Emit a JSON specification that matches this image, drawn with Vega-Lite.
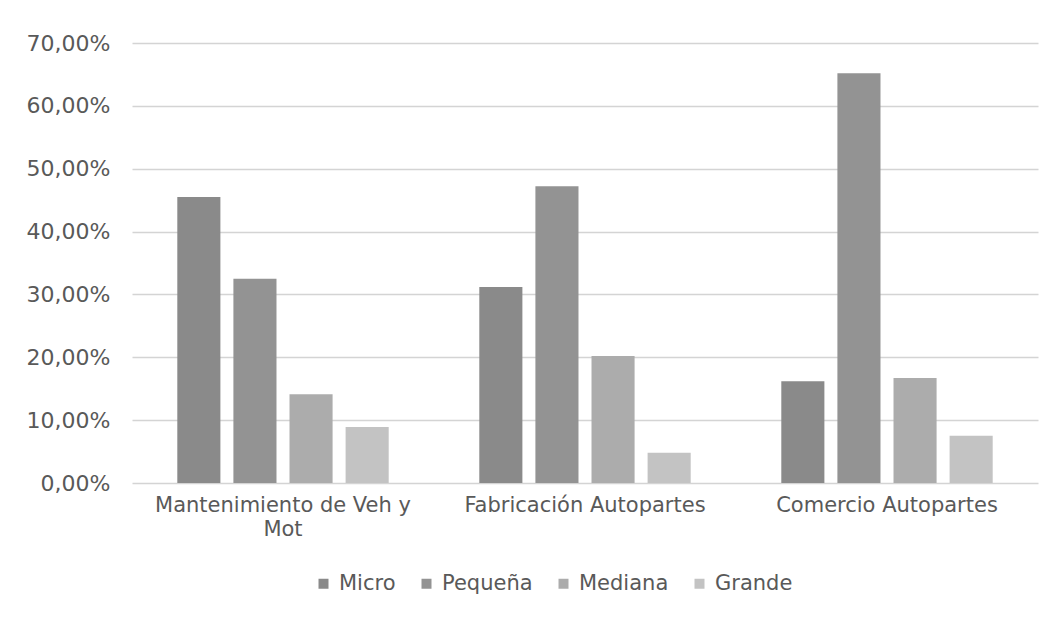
{
  "$schema": "https://vega.github.io/schema/vega-lite/v6.json",
  "width": 906,
  "height": 440,
  "autosize": {"type": "none"},
  "padding": {"left": 132, "top": 43, "right": 19, "bottom": 137},
  "background": "white",
  "data": {
    "values": [
      {"sector": "Mantenimiento de Veh y Mot", "size": "Micro", "pct": 45.5},
      {"sector": "Mantenimiento de Veh y Mot", "size": "Pequeña", "pct": 32.5},
      {"sector": "Mantenimiento de Veh y Mot", "size": "Mediana", "pct": 14.1},
      {"sector": "Mantenimiento de Veh y Mot", "size": "Grande", "pct": 8.9},
      {"sector": "Fabricación Autopartes", "size": "Micro", "pct": 31.2},
      {"sector": "Fabricación Autopartes", "size": "Pequeña", "pct": 47.2},
      {"sector": "Fabricación Autopartes", "size": "Mediana", "pct": 20.2},
      {"sector": "Fabricación Autopartes", "size": "Grande", "pct": 4.8},
      {"sector": "Comercio Autopartes", "size": "Micro", "pct": 16.2},
      {"sector": "Comercio Autopartes", "size": "Pequeña", "pct": 65.2},
      {"sector": "Comercio Autopartes", "size": "Mediana", "pct": 16.7},
      {"sector": "Comercio Autopartes", "size": "Grande", "pct": 7.5}
    ]
  },
  "mark": {"type": "bar"},
  "encoding": {
    "x": {
      "field": "sector",
      "type": "nominal",
      "sort": ["Mantenimiento de Veh y Mot", "Fabricación Autopartes", "Comercio Autopartes"],
      "scale": {"paddingInner": 0.3, "paddingOuter": 0.15},
      "axis": {
        "title": null,
        "labelAngle": 0,
        "labelFont": "DejaVu Sans",
        "labelFontSize": 21,
        "labelColor": "#595959",
        "labelPadding": 11,
        "labelLineHeight": 24,
        "labelLimit": 0,
        "ticks": false,
        "domain": false,
        "labelExpr": "datum.label == 'Mantenimiento de Veh y Mot' ? ['Mantenimiento de Veh y', 'Mot'] : datum.label"
      }
    },
    "xOffset": {
      "field": "size",
      "type": "nominal",
      "sort": ["Micro", "Pequeña", "Mediana", "Grande"],
      "scale": {"paddingInner": 0.232, "paddingOuter": 0}
    },
    "y": {
      "field": "pct",
      "type": "quantitative",
      "scale": {"domain": [0, 70], "nice": false},
      "axis": {
        "title": null,
        "values": [0, 10, 20, 30, 40, 50, 60, 70],
        "labelExpr": "replace(format(datum.value, '.2f'), '.', ',') + '%'",
        "labelFont": "DejaVu Sans",
        "labelFontSize": 22,
        "labelColor": "#595959",
        "labelPadding": 22,
        "ticks": false,
        "domain": false,
        "gridColor": "#d4d4d4",
        "gridWidth": 1.3
      }
    },
    "color": {
      "field": "size",
      "type": "nominal",
      "sort": ["Micro", "Pequeña", "Mediana", "Grande"],
      "scale": {
        "domain": ["Micro", "Pequeña", "Mediana", "Grande"],
        "range": ["#8a8a8a", "#939393", "#acacac", "#c3c3c3"]
      },
      "legend": {
        "title": null,
        "orient": "none",
        "legendX": 181,
        "legendY": 530,
        "direction": "horizontal",
        "symbolType": "square",
        "symbolSize": 100,
        "symbolStrokeWidth": 0,
        "labelFont": "DejaVu Sans",
        "labelFontSize": 21,
        "labelColor": "#595959",
        "labelOffset": 5,
        "columnPadding": 20
      }
    }
  },
  "config": {
    "view": {"stroke": null}
  }
}
